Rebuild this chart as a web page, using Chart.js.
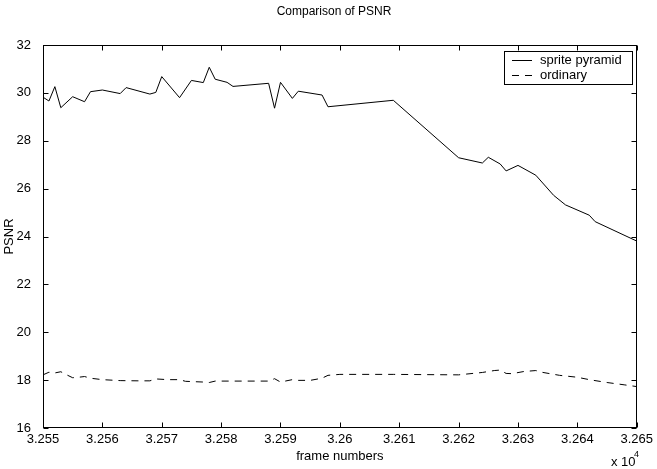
<!DOCTYPE html>
<html><head><meta charset="utf-8">
<style>html,body{margin:0;padding:0;background:#fff}#wrap{width:657px;height:469px}</style>
<script src="https://cdn.jsdelivr.net/npm/chart.js@4"></script>
</head><body><div id="wrap"><canvas id="c" width="657" height="469"></canvas></div>
<script>
const spriteFrames = [32550,32551,32552,32553,32555,32557,32558,32560,32563,32564,32568,32569,32570,32573,32575,32577,32578,32579,32581,32582,32588,32589,32590,32592,32593,32597,32598,32609,32620,32624,32625,32627,32628,32630,32633,32636,32638,32642,32643,32650];
const spritePSNR = [29.82,29.66,30.26,29.38,29.84,29.63,30.05,30.12,29.97,30.22,29.95,30.02,30.68,29.80,30.52,30.43,31.07,30.57,30.44,30.27,30.40,29.36,30.44,29.77,30.07,29.91,29.42,29.69,27.29,27.07,27.31,27.03,26.74,26.97,26.56,25.72,25.32,24.89,24.62,23.81];
const ordinaryFrames = [32550,32551,32552,32553,32554,32555,32556,32557,32558,32560,32563,32566,32568,32569,32571,32573,32574,32577,32578,32579,32582,32588,32589,32590,32592,32593,32595,32597,32598,32600,32609,32620,32624,32626,32627,32628,32629,32631,32633,32634,32637,32640,32642,32645,32648,32650];
const ordinaryPSNR = [18.22,18.33,18.30,18.35,18.22,18.10,18.12,18.15,18.08,18.02,17.98,17.97,17.97,18.05,18.02,18.02,17.95,17.92,17.90,17.96,17.96,17.96,18.06,17.92,18.02,17.99,17.99,18.08,18.20,18.24,18.24,18.22,18.32,18.40,18.42,18.28,18.27,18.36,18.40,18.33,18.20,18.12,18.02,17.90,17.80,17.73];
const xTickValues = [32550,32560,32570,32580,32590,32600,32610,32620,32630,32640,32650];
const xTickLabels = ['3.255','3.256','3.257','3.258','3.259','3.26','3.261','3.262','3.263','3.264','3.265'];
const yTickValues = [16,18,20,22,24,26,28,30,32];
const seriesNames = ['sprite pyramid','ordinary'];

const FONT = "'Liberation Sans', Arial, Helvetica, sans-serif";

const matlabPlugin = {
  id: 'matlab',
  afterDraw(chart) {
    const ctx = chart.ctx, a = chart.chartArea;
    const xs = chart.scales.x, ys = chart.scales.y;
    ctx.save();
    ctx.strokeStyle = '#000'; ctx.lineWidth = 1;
    const L = Math.round(a.left)+0.5, R = Math.round(a.right)-0.5, T = Math.round(a.top)+0.5, B = Math.round(a.bottom)-0.5;
    ctx.strokeRect(L, T, R-L, B-T);
    const tl = 5;
    ctx.beginPath();
    xTickValues.forEach(v => {
      const px = Math.round(xs.getPixelForValue(v)) + 0.5;
      ctx.moveTo(px, B); ctx.lineTo(px, B - tl);
      ctx.moveTo(px, T); ctx.lineTo(px, T + tl);
    });
    yTickValues.forEach(v => {
      const py = Math.round(ys.getPixelForValue(v)) + 0.5;
      ctx.moveTo(L, py); ctx.lineTo(L + tl, py);
      ctx.moveTo(R, py); ctx.lineTo(R - tl, py);
    });
    ctx.stroke();

    ctx.fillStyle = '#000';
    const cx = (a.left + a.right) / 2;
    ctx.textAlign = 'center'; ctx.textBaseline = 'middle';
    ctx.font = '12px ' + FONT;
    ctx.fillText('Comparison of PSNR', 334, 12);
    ctx.font = '13px ' + FONT;
    ctx.fillText('frame numbers', cx, 456);
    ctx.save();
    ctx.translate(9, (a.top + a.bottom) / 2);
    ctx.rotate(-Math.PI / 2);
    ctx.fillText('PSNR', 0, 0);
    ctx.restore();
    ctx.textAlign = 'left';
    ctx.fillText('x 10', 611, 462);
    ctx.font = '9px ' + FONT;
    ctx.fillText('4', 634, 455);

    // legend
    const lx = 504.5, ly = 51.5, lw = 128, lh = 33;
    ctx.fillStyle = '#fff';
    ctx.fillRect(lx, ly, lw, lh);
    ctx.strokeRect(lx, ly, lw, lh);
    ctx.beginPath(); ctx.moveTo(512, 60.5); ctx.lineTo(532, 60.5); ctx.stroke();
    ctx.setLineDash([7, 6]);
    ctx.beginPath(); ctx.moveTo(512, 75.5); ctx.lineTo(532, 75.5); ctx.stroke();
    ctx.setLineDash([]);
    ctx.fillStyle = '#000';
    ctx.font = '13px ' + FONT;
    ctx.textAlign = 'left'; ctx.textBaseline = 'middle';
    ctx.fillText(seriesNames[0], 540, 60);
    ctx.fillText(seriesNames[1], 540, 75);
    ctx.restore();
  }
};

new Chart(document.getElementById('c'), {
  type: 'line',
  data: {
    datasets: [
      { label: seriesNames[0], data: spriteFrames.map((f,i)=>({x:f,y:spritePSNR[i]})), borderColor:'#000', borderWidth:1, pointRadius:0, tension:0, fill:false },
      { label: seriesNames[1], data: ordinaryFrames.map((f,i)=>({x:f,y:ordinaryPSNR[i]})), borderColor:'#000', borderWidth:1, borderDash:[7,6], pointRadius:0, tension:0, fill:false }
    ]
  },
  options: {
    responsive: false, animation: false, devicePixelRatio: 1,
    layout: { padding: { top: 45, right: 19, left: 0, bottom: 0 } },
    plugins: { legend: { display: false }, title: { display: false }, tooltip: { enabled: false } },
    scales: {
      x: {
        type: 'linear', min: 32550, max: 32650,
        afterFit: s => { s.height = 41; },
        afterBuildTicks: s => { s.ticks = xTickValues.map(v => ({ value: v })); },
        grid: { display: false, drawTicks: false }, border: { display: false },
        ticks: { autoSkip: false, maxRotation: 0, padding: 4, color: '#000', font: { family: FONT, size: 13 },
          callback: (v) => { const i = xTickValues.indexOf(v); return i >= 0 ? xTickLabels[i] : ''; } }
      },
      y: {
        type: 'linear', min: 16, max: 32,
        afterFit: s => { s.width = 43; },
        afterBuildTicks: s => { s.ticks = yTickValues.map(v => ({ value: v })); },
        grid: { display: false, drawTicks: false }, border: { display: false },
        ticks: { padding: 12, color: '#000', font: { family: FONT, size: 13 }, callback: v => String(v) }
      }
    }
  },
  plugins: [matlabPlugin]
});
</script></body></html>
